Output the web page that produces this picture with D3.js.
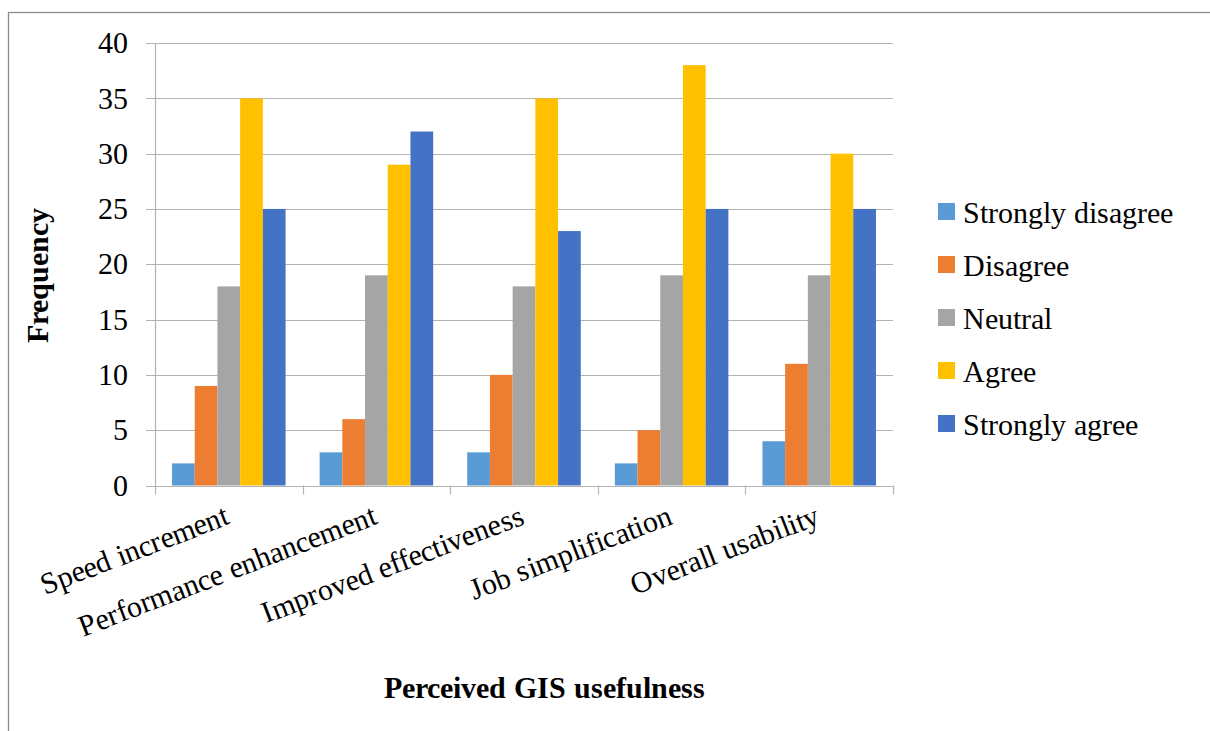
<!DOCTYPE html>
<html>
<head>
<meta charset="utf-8">
<script src="https://cdn.jsdelivr.net/npm/d3@7"></script>
<style>
  @font-face {
    font-family: "ChartSerif";
    src: local("Liberation Serif"), local("LiberationSerif"), local("LiberationSerif-Regular"), local("Times New Roman"), local("Tinos");
    font-weight: 400;
  }
  @font-face {
    font-family: "ChartSerif";
    src: local("Liberation Serif Bold"), local("LiberationSerif-Bold"), local("Times New Roman Bold");
    font-weight: 700;
  }
  html, body { margin: 0; padding: 0; background: #fff; }
  svg { display: block; }
  svg text { font-family: "ChartSerif", "Liberation Serif", "Times New Roman", Tinos, serif; }
</style>
</head>
<body>
<script>
// Survey responses on perceived GIS usefulness
const categories = ["Speed increment", "Performance enhancement", "Improved effectiveness", "Job simplification", "Overall usability"];
const seriesNames = ["Strongly disagree", "Disagree", "Neutral", "Agree", "Strongly agree"];
const stronglyDisagree = [2, 3, 3, 2, 4];
const disagree = [9, 6, 10, 5, 11];
const neutral = [18, 19, 18, 19, 19];
const agree = [35, 29, 35, 38, 30];
const stronglyAgree = [25, 32, 23, 25, 25];
const yTicks = [0, 5, 10, 15, 20, 25, 30, 35, 40];
const colors = ["#5B9BD5", "#ED7D31", "#A5A5A5", "#FFC000", "#4472C4"];

const seriesValues = [stronglyDisagree, disagree, neutral, agree, stronglyAgree];

const W = 1210, H = 731;
const plot = { left: 155, right: 893, top: 43, bottom: 485.5 };

const svg = d3.select("body").append("svg").attr("width", W).attr("height", H);

// outer frame
svg.append("rect")
  .attr("x", 8.5).attr("y", 12.5)
  .attr("width", W + 10).attr("height", H + 10)
  .attr("fill", "none").attr("stroke", "#8c8c8c").attr("stroke-width", 1.3);

const x0 = d3.scaleBand().domain(categories).range([plot.left, plot.right]).paddingInner(0).paddingOuter(0);
// gap of 1.5 bar widths per category: outer padding = 0.75 bar each side
const x1 = d3.scaleBand().domain(seriesNames).range([0, x0.bandwidth()]).paddingInner(0).paddingOuter(0.75);
const y = d3.scaleLinear().domain([0, 40]).range([plot.bottom, plot.top]);

const gridColor = "#b3b3b3";

// horizontal gridlines with left tick stubs
svg.append("g").selectAll("line").data(yTicks).join("line")
  .attr("x1", plot.left - 9).attr("x2", plot.right)
  .attr("y1", d => Math.round(y(d)) + 0.5).attr("y2", d => Math.round(y(d)) + 0.5)
  .attr("stroke", gridColor).attr("stroke-width", 1.2);

// y axis line
svg.append("line")
  .attr("x1", plot.left + 0.5).attr("x2", plot.left + 0.5)
  .attr("y1", plot.top).attr("y2", plot.bottom)
  .attr("stroke", gridColor).attr("stroke-width", 1.2);

// y tick labels
svg.append("g").selectAll("text").data(yTicks).join("text")
  .attr("x", 128).attr("y", d => y(d))
  .attr("dy", "0.34em")
  .attr("text-anchor", "end")
  .attr("font-size", 30)
  .text(d => d);

// category tick marks below the axis
const boundaries = categories.map(c => x0(c)).concat([plot.right]);
svg.append("g").selectAll("line").data(boundaries).join("line")
  .attr("x1", d => Math.round(d) + 0.5).attr("x2", d => Math.round(d) + 0.5)
  .attr("y1", plot.bottom).attr("y2", plot.bottom + 9)
  .attr("stroke", gridColor).attr("stroke-width", 1.2);

// bars
const groups = svg.append("g").selectAll("g").data(categories).join("g")
  .attr("transform", c => `translate(${x0(c)},0)`);
groups.selectAll("rect")
  .data((c, i) => seriesNames.map((s, j) => ({ s, j, v: seriesValues[j][i] })))
  .join("rect")
  .attr("x", d => x1(d.s))
  .attr("width", x1.bandwidth())
  .attr("y", d => y(d.v))
  .attr("height", d => y(0) - y(d.v))
  .attr("fill", d => colors[d.j]);

// rotated category labels
svg.append("g").selectAll("text").data(categories).join("text")
  .attr("transform", c => `translate(${x0(c) + x0.bandwidth() / 2 + 2},${plot.bottom + 38}) rotate(-21)`)
  .attr("text-anchor", "end")
  .attr("font-size", 30)
  .text(c => c);

// axis titles
svg.append("text")
  .attr("x", 544).attr("y", 698)
  .attr("text-anchor", "middle")
  .attr("font-size", 30).attr("font-weight", "bold")
  .text("Perceived GIS usefulness");

svg.append("text")
  .attr("transform", `translate(48,275) rotate(-90)`)
  .attr("text-anchor", "middle")
  .attr("font-size", 30).attr("font-weight", "bold")
  .text("Frequency");

// legend
const legend = svg.append("g").selectAll("g").data(seriesNames).join("g")
  .attr("transform", (d, i) => `translate(938,${211.5 + i * 53})`);
legend.append("rect")
  .attr("x", 0).attr("y", -8.5).attr("width", 17).attr("height", 17)
  .attr("fill", (d, i) => colors[i]);
legend.append("text")
  .attr("x", 25).attr("y", 11)
  .attr("font-size", 30)
  .text(d => d);
</script>
</body>
</html>
